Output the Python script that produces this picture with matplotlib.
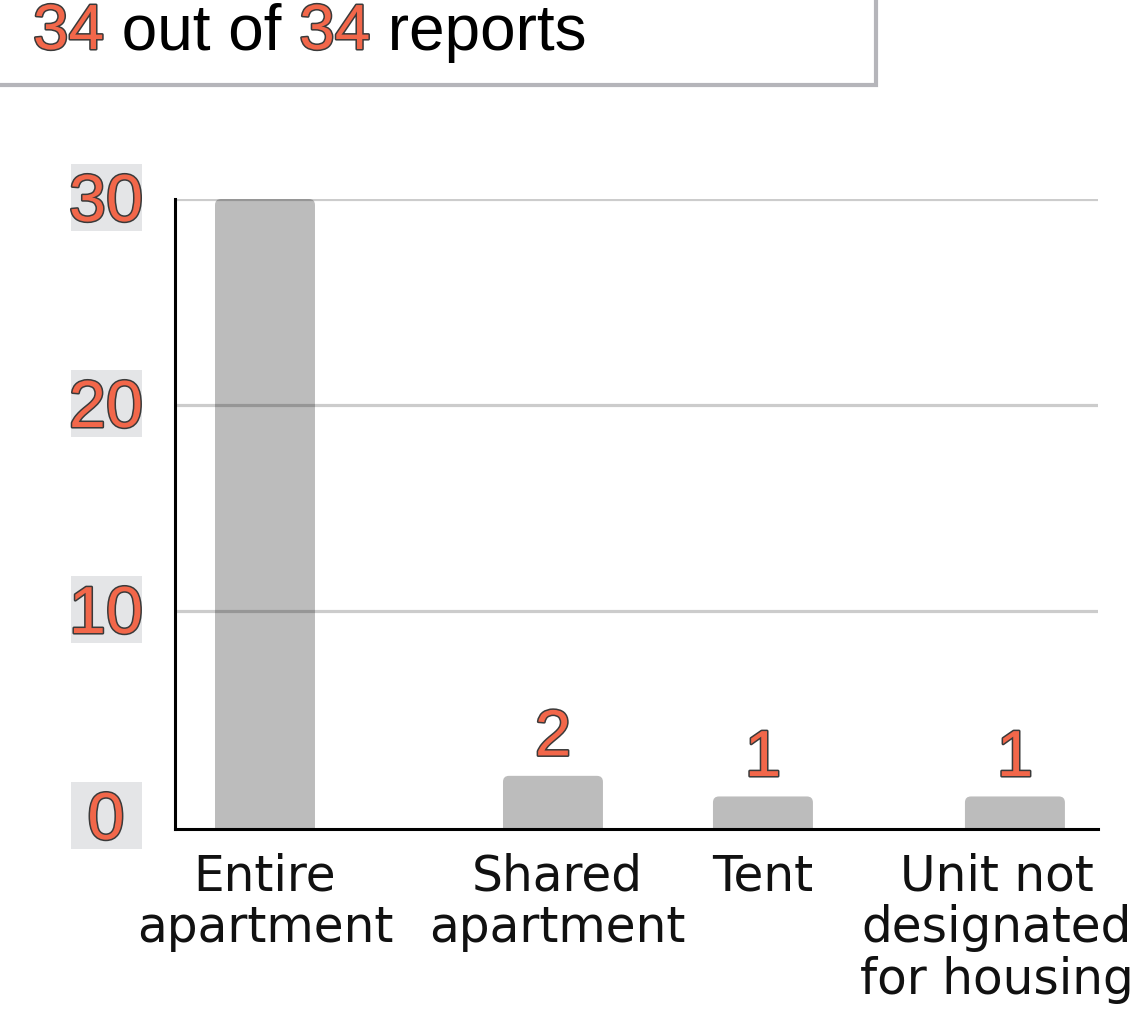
import matplotlib
matplotlib.use("Agg")
import matplotlib.pyplot as plt
import matplotlib.patheffects as pe
import matplotlib.transforms as mtransforms
from matplotlib.patches import Rectangle, FancyBboxPatch

# ---- data ----
categories = ["Entire\napartment", "Shared\napartment", "Tent", "Unit not\ndesignated\nfor housing"]
values = [30, 2, 1, 1]
yticks = [0, 10, 20, 30]
ytick_labels = ["0", "10", "20", "30"]
shown_reports = 34
total_reports = 34

# ---- layout / style ----
bar_x = [0.0975, 0.4095, 0.637, 0.910]
label_x = [0.0975, 0.414, 0.637, 0.8906]
bar_w = 0.1083
Y0 = -0.58
ORANGE = "#f2674a"
OUTLINE = "#3a3a3a"
BAR = "#bcbcbc"
num_font = "Liberation Sans"
stroke = [pe.withStroke(linewidth=2.2, foreground=OUTLINE)]

W, H = 1141, 1020
fig = plt.figure(figsize=(W / 100, H / 100), dpi=100)
ax = fig.add_axes([175 / W, 1 - 830 / H, (1098 - 175) / W, (830 - 200) / H])
ax.set_xlim(0, 1)
ax.set_ylim(Y0, 30)

# bars with slightly rounded tops
px_per_x = (1098 - 175) / 1.0
px_per_y = (830 - 200) / (30 - Y0)
r_px = 6
for x, v in zip(bar_x, values):
    p = FancyBboxPatch((x - bar_w / 2, Y0 - 1), bar_w, v - Y0 + 1,
                       boxstyle=f"round,pad=0,rounding_size={r_px / px_per_x}",
                       mutation_aspect=px_per_x / px_per_y,
                       facecolor=BAR, edgecolor="none", zorder=2)
    ax.add_patch(p)
    if v < 30:
        ax.text(x, v + 0.36, str(v), ha="center", va="bottom", fontsize=47,
                family=num_font, color=ORANGE, path_effects=stroke, zorder=5)

# gridlines
for t in yticks[1:]:
    ax.axhline(t, color="black", alpha=0.2, lw=2.3, zorder=3)

for s in ["top", "right"]:
    ax.spines[s].set_visible(False)
ax.spines["left"].set_linewidth(2.2)
ax.spines["bottom"].set_linewidth(2.2)
ax.spines["left"].set_zorder(4)
ax.spines["bottom"].set_zorder(4)
ax.set_xticks([])
ax.set_yticks([])

# y tick labels with grey boxes
blend = mtransforms.blended_transform_factory(fig.transFigure, ax.transData)
box_h = 67 / px_per_y
for t, lab in zip(yticks, ytick_labels):
    yc = t + 2 / px_per_y
    fig.patches.append(Rectangle((71 / W, yc - box_h / 2), 71 / W, box_h,
                                 transform=blend, facecolor="#e4e5e7",
                                 edgecolor="none", zorder=1))
    fig.text(106 / W, yc, lab, transform=blend, ha="center", va="center_baseline",
             fontsize=48, family=num_font, color=ORANGE, path_effects=stroke, zorder=2)

# category labels
for x, c in zip(label_x, categories):
    ax.text(x, -0.036, c, transform=ax.transAxes, ha="center", va="top",
            fontsize=35, family="DejaVu Sans", color="#111111",
            linespacing=1.1, multialignment="center")

# title box
fig.patches.append(Rectangle((-0.01, 1 - 86 / H), 876 / W + 0.01, 86 / H + 0.01,
                             transform=fig.transFigure, facecolor="white",
                             edgecolor="#b5b5ba", lw=3, zorder=0))
parts = [(str(shown_reports), True), (" out of ", False), (str(total_reports), True), (" reports", False)]
renderer = fig.canvas.get_renderer()
x_px = 33
for txt, hi in parts:
    kw = dict(fontsize=46, family=num_font, va="baseline", ha="left", zorder=3)
    if hi:
        kw.update(color=ORANGE, path_effects=stroke)
    else:
        kw.update(color="black")
    t = fig.text(x_px / W, 1 - 50 / H, txt, **kw)
    ext = t.get_window_extent(renderer=renderer)
    x_px = ext.x1

fig.savefig("out.png", dpi=100)
